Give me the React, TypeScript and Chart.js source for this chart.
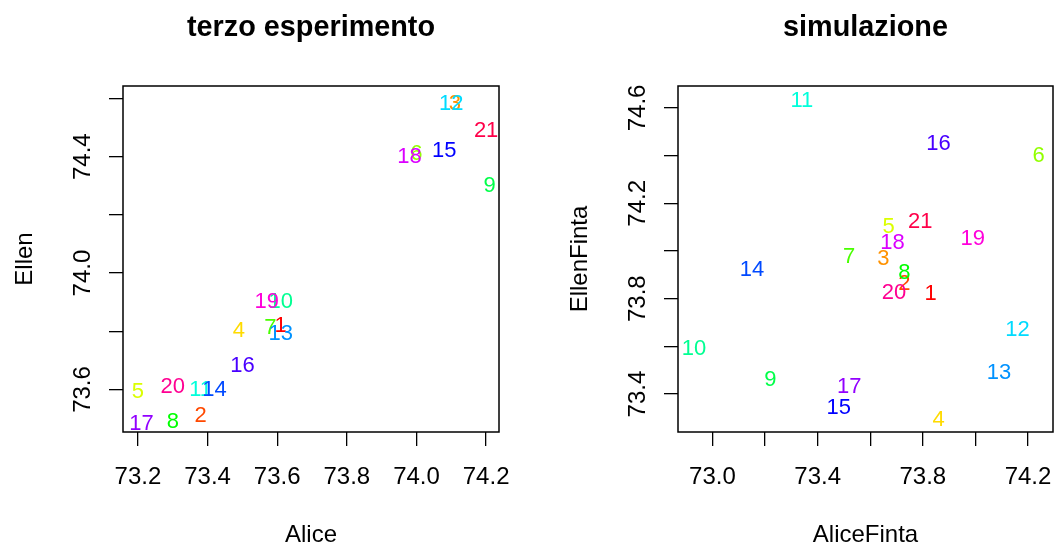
import React, { useEffect, useRef } from "react";
import { Chart, registerables } from "chart.js";

Chart.register(...registerables);

// ---------- data ----------
const pointLabels = ["1","2","3","4","5","6","7","8","9","10","11","12","13","14","15","16","17","18","19","20","21"];

const pointColors = [
  "#FF0000","#FF4900","#FF9200","#FFDB00","#DBFF00","#92FF00","#49FF00",
  "#00FF00","#00FF49","#00FF92","#00FFDB","#00DBFF","#0092FF","#0049FF",
  "#0000FF","#4900FF","#9200FF","#DB00FF","#FF00DB","#FF0092","#FF0049",
];

// terzo esperimento
const alice = [73.61,73.38,74.11,73.49,73.20,74.00,73.58,73.30,74.21,73.61,73.38,74.10,73.61,73.42,74.08,73.50,73.21,73.98,73.57,73.30,74.20];
const ellen = [73.82,73.51,74.58,73.80,73.59,74.41,73.81,73.49,74.30,73.90,73.60,74.58,73.79,73.60,74.42,73.68,73.48,74.40,73.90,73.61,74.49];

// simulazione
const aliceFinta = [73.83,73.73,73.65,73.86,73.67,74.24,73.52,73.73,73.22,72.93,73.34,74.16,74.09,73.15,73.48,73.86,73.52,73.685,73.99,73.69,73.79];
const ellenFinta = [73.82,73.86,73.965,73.29,74.10,74.40,73.975,73.91,73.46,73.59,74.63,73.67,73.49,73.92,73.34,74.45,73.43,74.035,74.05,73.825,74.12];

// ticks
const leftXTicks = [73.2, 73.4, 73.6, 73.8, 74.0, 74.2];
const leftXTickLabels = ["73.2", "73.4", "73.6", "73.8", "74.0", "74.2"];
const leftYTicks = [73.6, 73.8, 74.0, 74.2, 74.4, 74.6];
const leftYTickLabels = ["73.6", "", "74.0", "", "74.4", ""];
const rightXTicks = [73.0, 73.2, 73.4, 73.6, 73.8, 74.0, 74.2];
const rightXTickLabels = ["73.0", "", "73.4", "", "73.8", "", "74.2"];
const rightYTicks = [73.4, 73.6, 73.8, 74.0, 74.2, 74.4, 74.6];
const rightYTickLabels = ["73.4", "", "73.8", "", "74.2", "", "74.6"];

const FONT = '"Liberation Sans", Arial, Helvetica, sans-serif';

type PanelProps = {
  xs: number[];
  ys: number[];
  title: string;
  xTitle: string;
  yTitle: string;
  xRange: [number, number];
  yRange: [number, number];
  xTicks: number[];
  xTickLabels: string[];
  yTicks: number[];
  yTickLabels: string[];
  left: number;
  width: number;
  areaLeft: number;
  areaRight: number;
};

const AREA_TOP = 86;
const AREA_BOTTOM = 432;
const H = 544;

function Panel(p: PanelProps) {
  const ref = useRef<HTMLCanvasElement | null>(null);
  useEffect(() => {
    if (!ref.current) return;
    const rPlugin = {
      id: "rstyle",
      afterDraw(chart: any) {
        const ctx = chart.ctx as CanvasRenderingContext2D;
        const a = chart.chartArea;
        const xs = chart.scales.x;
        const ys = chart.scales.y;
        // point labels
        ctx.save();
        ctx.beginPath();
        ctx.rect(a.left, a.top, a.right - a.left, a.bottom - a.top);
        ctx.clip();
        ctx.font = `22px ${FONT}`;
        ctx.textAlign = "center";
        ctx.textBaseline = "middle";
        const meta = chart.getDatasetMeta(0);
        meta.data.forEach((el: any, i: number) => {
          ctx.fillStyle = pointColors[i];
          ctx.fillText(pointLabels[i], el.x, el.y);
        });
        ctx.restore();
        // box
        ctx.save();
        ctx.strokeStyle = "#000";
        ctx.lineWidth = 1.5;
        ctx.strokeRect(a.left, a.top, a.right - a.left, a.bottom - a.top);
        // tick labels
        ctx.fillStyle = "#000";
        ctx.font = `24px ${FONT}`;
        ctx.textAlign = "center";
        ctx.textBaseline = "alphabetic";
        p.xTicks.forEach((v, i) => {
          const lab = p.xTickLabels[i];
          if (!lab) return;
          ctx.fillText(lab, xs.getPixelForValue(v), a.bottom + 52);
        });
        p.yTicks.forEach((v, i) => {
          const lab = p.yTickLabels[i];
          if (!lab) return;
          ctx.save();
          ctx.translate(a.left - 33, ys.getPixelForValue(v));
          ctx.rotate(-Math.PI / 2);
          ctx.fillText(lab, 0, 0);
          ctx.restore();
        });
        // axis titles
        ctx.fillText(p.xTitle, (a.left + a.right) / 2, a.bottom + 110);
        ctx.save();
        ctx.translate(a.left - 91, (a.top + a.bottom) / 2);
        ctx.rotate(-Math.PI / 2);
        ctx.fillText(p.yTitle, 0, 0);
        ctx.restore();
        // main title
        ctx.font = `bold 28.8px ${FONT}`;
        ctx.fillText(p.title, (a.left + a.right) / 2, 36);
        ctx.restore();
      },
    };

    const chart = new Chart(ref.current, {
      type: "scatter",
      data: {
        datasets: [
          {
            data: p.xs.map((x, i) => ({ x, y: p.ys[i] })),
            pointRadius: 0,
            pointHoverRadius: 0,
            backgroundColor: pointColors,
          },
        ],
      },
      options: {
        animation: false,
        responsive: false,
        maintainAspectRatio: false,
        events: [],
        layout: {
          padding: { left: 0, top: AREA_TOP, right: p.width - p.areaRight, bottom: 0 },
        },
        plugins: {
          legend: { display: false },
          tooltip: { enabled: false },
          title: { display: false },
        },
        scales: {
          x: {
            type: "linear",
            position: "bottom",
            min: p.xRange[0],
            max: p.xRange[1],
            afterBuildTicks: (s: any) => {
              s.ticks = p.xTicks.map((v) => ({ value: v }));
            },
            afterFit: (s: any) => {
              s.height = H - AREA_BOTTOM;
            },
            ticks: { display: false },
            grid: {
              display: true,
              drawOnChartArea: false,
              drawTicks: true,
              tickLength: 14,
              color: "#000",
              lineWidth: 1.3,
            },
            border: { display: false },
          },
          y: {
            type: "linear",
            position: "left",
            min: p.yRange[0],
            max: p.yRange[1],
            afterBuildTicks: (s: any) => {
              s.ticks = p.yTicks.map((v) => ({ value: v }));
            },
            afterFit: (s: any) => {
              s.width = p.areaLeft;
            },
            ticks: { display: false },
            grid: {
              display: true,
              drawOnChartArea: false,
              drawTicks: true,
              tickLength: 14,
              color: "#000",
              lineWidth: 1.3,
            },
            border: { display: false },
          },
        },
      } as any,
      plugins: [rPlugin],
    });
    return () => chart.destroy();
  }, []);

  return (
    <div style={{ position: "absolute", left: p.left, top: 0, width: p.width, height: H }}>
      <canvas ref={ref} width={p.width} height={H} style={{ display: "block", width: p.width, height: H }} />
    </div>
  );
}

export default function App() {
  return (
    <div style={{ position: "absolute", left: 0, top: 0, width: 1054, height: 544, background: "#fff", overflow: "hidden" }}>
      <Panel
        xs={alice}
        ys={ellen}
        title="terzo esperimento"
        xTitle="Alice"
        yTitle="Ellen"
        xRange={[73.157, 74.237]}
        yRange={[73.454, 74.643]}
        xTicks={leftXTicks}
        xTickLabels={leftXTickLabels}
        yTicks={leftYTicks}
        yTickLabels={leftYTickLabels}
        left={0}
        width={527}
        areaLeft={123}
        areaRight={499}
      />
      <Panel
        xs={aliceFinta}
        ys={ellenFinta}
        title="simulazione"
        xTitle="AliceFinta"
        yTitle="EllenFinta"
        xRange={[72.869, 74.295]}
        yRange={[73.241, 74.692]}
        xTicks={rightXTicks}
        xTickLabels={rightXTickLabels}
        yTicks={rightYTicks}
        yTickLabels={rightYTickLabels}
        left={527}
        width={527}
        areaLeft={151}
        areaRight={526}
      />
    </div>
  );
}
